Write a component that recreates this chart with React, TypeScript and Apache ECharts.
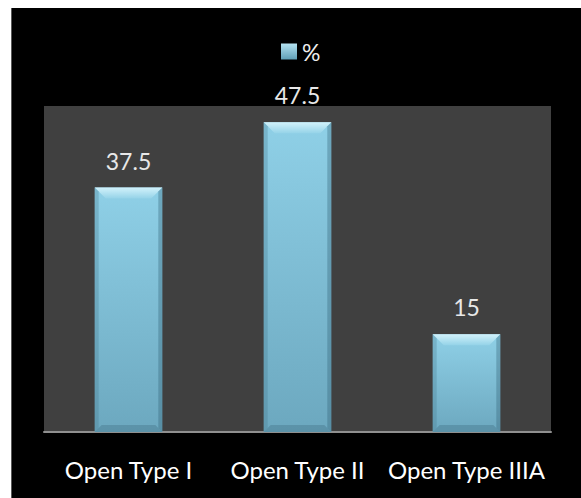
import React, { useEffect, useRef } from "react";
import * as echarts from "echarts";

const categories = ["Open Type I", "Open Type II", "Open Type IIIA"];
const percentValues = [37.5, 47.5, 15];
const seriesName = "%";
const yMin = 0;
const yMax = 50;

const FONT = "Lato, 'Open Sans', sans-serif";

export default function App() {
  const ref = useRef<HTMLDivElement>(null);

  useEffect(() => {
    if (!ref.current) return;
    const chart = echarts.init(ref.current, undefined, { renderer: "svg" });

    const barFill = new echarts.graphic.LinearGradient(0, 0, 0, 1, [
      { offset: 0, color: "#8fd0e7" },
      { offset: 1, color: "#6ca8bf" },
    ]);

    const option: any = {
      animation: false,
      backgroundColor: "#000000",
      textStyle: { fontFamily: FONT },
      legend: {
        show: true,
        left: 264,
        top: 27,
        itemWidth: 16,
        itemHeight: 16,
        itemGap: 6,
        textStyle: { color: "#eeeeee", fontSize: 23, fontFamily: FONT },
        data: [
          {
            name: seriesName,
            icon: "rect",
            itemStyle: {
              color: new echarts.graphic.LinearGradient(0, 0, 0, 1, [
                { offset: 0, color: "#b5e3f2" },
                { offset: 1, color: "#5f9fb6" },
              ]),
            },
          },
        ],
      },
      grid: {
        left: 32,
        right: 30,
        top: 98,
        bottom: 66,
        show: true,
        backgroundColor: "#404040",
        borderWidth: 0,
      },
      xAxis: {
        type: "category",
        data: categories,
        axisLine: { show: true, lineStyle: { color: "#8f8f8f", width: 2 } },
        axisTick: { show: false },
        axisLabel: {
          color: "#ffffff",
          fontSize: 24,
          fontFamily: FONT,
          margin: 25,
          interval: 0,
        },
        splitLine: { show: false },
      },
      yAxis: {
        type: "value",
        min: yMin,
        max: yMax,
        show: false,
        splitLine: { show: false },
      },
      series: [
        {
          name: seriesName,
          type: "custom",
          data: percentValues.map((v, i) => [i, v]),
          encode: { x: 0, y: 1 },
          renderItem: (params: any, api: any) => {
            const idx = api.value(0);
            const val = api.value(1);
            const top = api.coord([idx, val]);
            const base = api.coord([idx, 0]);
            const w = api.size([1, 0])[0] * 0.4;
            const x0 = top[0] - w / 2;
            const x1 = top[0] + w / 2;
            const y0 = top[1];
            const y1 = base[1];
            const b = Math.min(11, (y1 - y0) / 2);
            const s = 4;
            return {
              type: "group",
              children: [
                {
                  type: "rect",
                  shape: { x: x0, y: y0, width: x1 - x0, height: y1 - y0 },
                  style: { fill: barFill },
                },
                {
                  type: "polygon",
                  shape: {
                    points: [
                      [x0, y0],
                      [x1, y0],
                      [x1 - b, y0 + b],
                      [x0 + b, y0 + b],
                    ],
                  },
                  style: {
                    fill: new echarts.graphic.LinearGradient(0, 0, 0, 1, [
                      { offset: 0, color: "#d2f2fb" },
                      { offset: 1, color: "#95d3e8" },
                    ]),
                  },
                },
                {
                  type: "polygon",
                  shape: {
                    points: [
                      [x0, y0],
                      [x0 + s, y0 + s],
                      [x0 + s, y1 - s],
                      [x0, y1],
                    ],
                  },
                  style: { fill: "rgba(70,120,140,0.3)" },
                },
                {
                  type: "polygon",
                  shape: {
                    points: [
                      [x1, y0],
                      [x1 - s, y0 + s],
                      [x1 - s, y1 - s],
                      [x1, y1],
                    ],
                  },
                  style: { fill: "rgba(50,95,115,0.35)" },
                },
                {
                  type: "polygon",
                  shape: {
                    points: [
                      [x0, y1],
                      [x1, y1],
                      [x1 - 7, y1 - 7],
                      [x0 + 7, y1 - 7],
                    ],
                  },
                  style: { fill: "rgba(60,105,125,0.35)" },
                },
                {
                  type: "text",
                  x: top[0],
                  y: y0 - 27,
                  style: {
                    text: String(val),
                    fill: "#e8e8e8",
                    fontSize: 23,
                    fontFamily: FONT,
                    align: "center",
                    verticalAlign: "middle",
                  },
                },
              ],
            };
          },
        },
      ],
    };

    chart.setOption(option);
    return () => chart.dispose();
  }, []);

  return (
    <div
      ref={ref}
      style={{
        position: "fixed",
        left: 11,
        top: 8,
        width: 570,
        height: 490,
        background: "#000",
        borderLeft: "1px solid #5a5a5a",
        boxSizing: "border-box",
      }}
    />
  );
}
